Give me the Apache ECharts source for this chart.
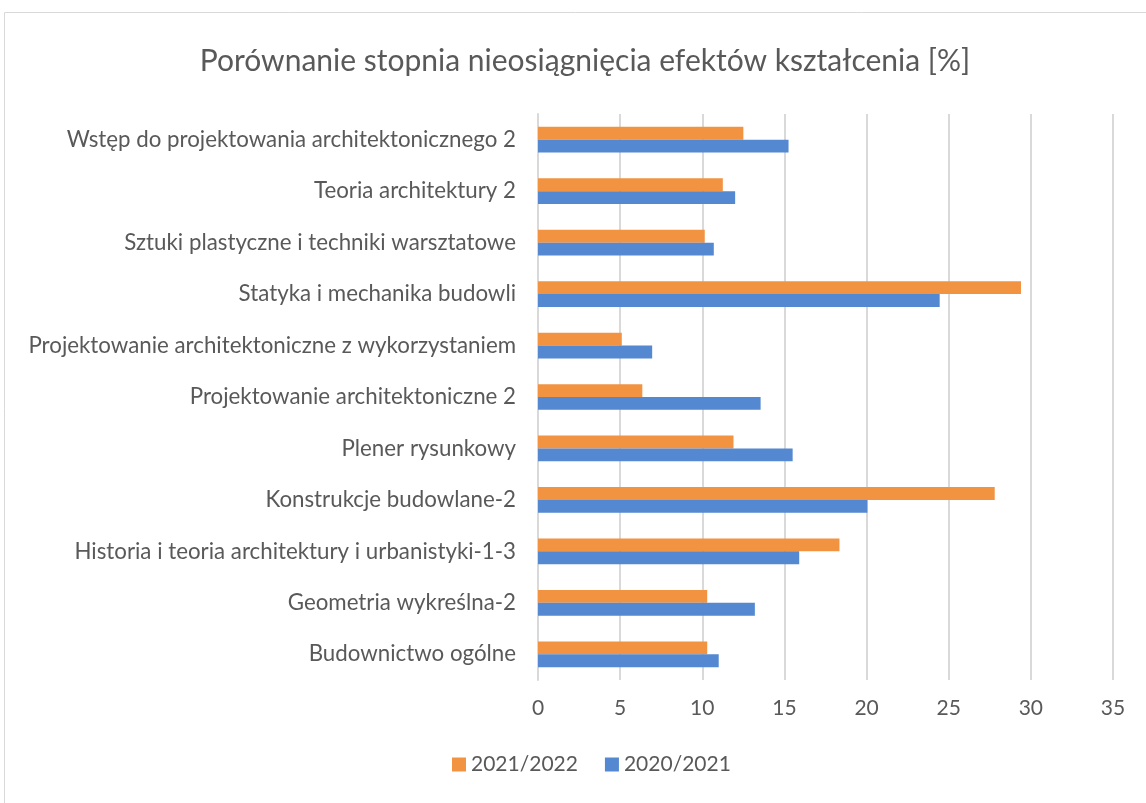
<!DOCTYPE html>
<html>
<head>
<meta charset="utf-8">
<script src="https://cdn.jsdelivr.net/npm/echarts@6/dist/echarts.min.js"></script>
<style>
  html, body { margin: 0; padding: 0; background: #fff; }
  #chart { width: 1146px; height: 803px; }
</style>
</head>
<body>
<div id="chart"></div>
<script>
// kategorie od dołu do góry (oś kategorii w ECharts rośnie w górę)
var categories = [
  'Budownictwo ogólne',
  'Geometria wykreślna-2',
  'Historia i teoria architektury i urbanistyki-1-3',
  'Konstrukcje budowlane-2',
  'Plener rysunkowy',
  'Projektowanie architektoniczne 2',
  'Projektowanie architektoniczne z wykorzystaniem',
  'Statyka i mechanika budowli',
  'Sztuki plastyczne i techniki warsztatowe',
  'Teoria architektury 2',
  'Wstęp do projektowania architektonicznego 2'
];
var v2021 = [10.3, 10.3, 18.35, 27.8, 11.9, 6.35, 5.1, 29.4, 10.15, 11.25, 12.5];
var v2020 = [11.0, 13.2, 15.9, 20.05, 15.5, 13.55, 6.95, 24.45, 10.7, 12.0, 15.25];
var xTicks = [0, 35, 5]; // min, max, krok

var font = 'Lato';
var chart = echarts.init(document.getElementById('chart'));
var option = {
  backgroundColor: '#fff',
  animation: false,
  title: {
    text: 'Porównanie stopnia nieosiągnięcia efektów kształcenia [%]',
    left: 580,
    top: 41,
    textAlign: 'center',
    textStyle: {
      fontFamily: font,
      fontWeight: 'normal',
      fontSize: 30,
      color: '#595959'
    }
  },
  graphic: [{
    type: 'rect',
    shape: { x: 4.5, y: 12.5, width: 1160, height: 820 },
    style: { fill: 'none', stroke: '#d9d9d9', lineWidth: 1 },
    silent: true
  }],
  legend: {
    data: ['2021/2022', '2020/2021'],
    left: 452,
    top: 754,
    padding: 0,
    itemWidth: 14,
    itemHeight: 14,
    itemGap: 27,
    icon: 'rect',
    textStyle: { fontFamily: font, fontSize: 21, color: '#595959' }
  },
  grid: { left: 538, right: 33, top: 114, bottom: 123 },
  xAxis: {
    type: 'value',
    min: xTicks[0],
    max: xTicks[1],
    interval: xTicks[2],
    axisLine: { show: false },
    axisTick: { show: false },
    axisLabel: { fontFamily: font, fontSize: 21, color: '#595959', margin: 18 },
    splitLine: { lineStyle: { color: '#d9d9d9', width: 2 } }
  },
  yAxis: {
    type: 'category',
    data: categories,
    axisLine: { show: true, lineStyle: { color: '#d9d9d9', width: 2 } },
    axisTick: { show: false },
    axisLabel: { fontFamily: font, fontSize: 22.3, color: '#595959', margin: 22 }
  },
  series: [{
    name: '2021/2022',
    type: 'bar',
    data: v2021,
    barGap: '0%',
    barCategoryGap: '50%',
    itemStyle: { color: '#f29342' }
  }, {
    name: '2020/2021',
    type: 'bar',
    data: v2020,
    barGap: '0%',
    barCategoryGap: '50%',
    itemStyle: { color: '#5488d1' }
  }]
};
chart.setOption(option);
</script>
</body>
</html>
